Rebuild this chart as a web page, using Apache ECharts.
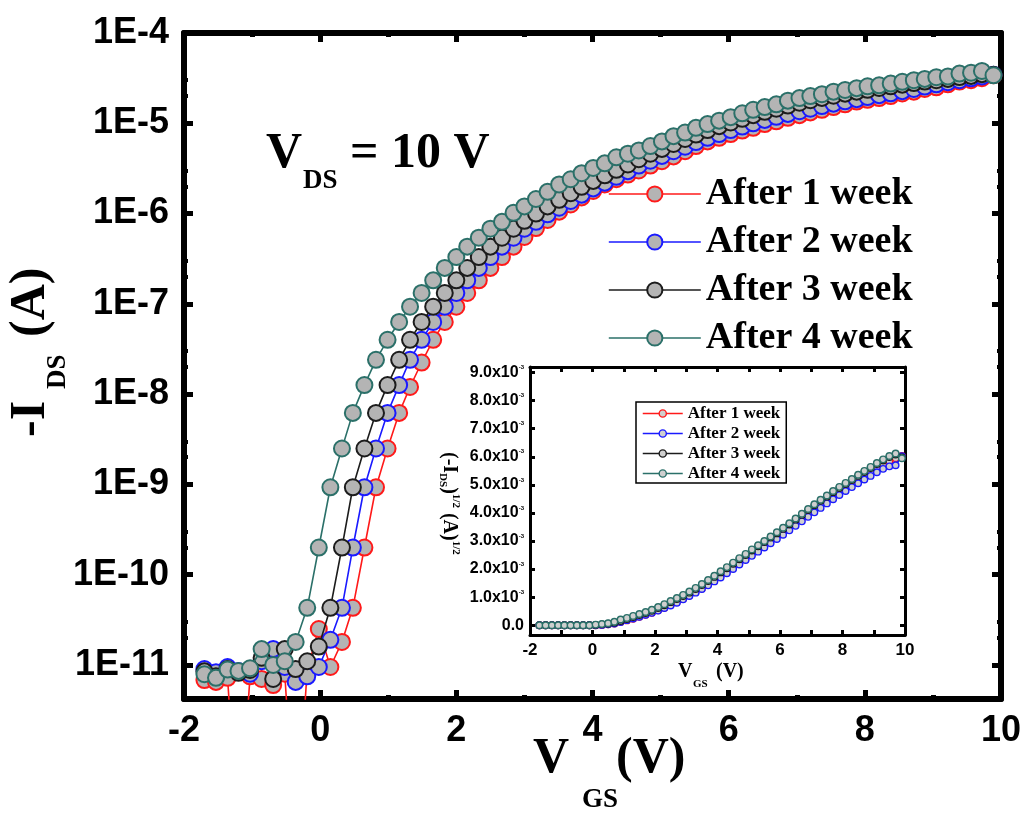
<!DOCTYPE html>
<html>
<head>
<meta charset="utf-8">
<script src="https://cdn.jsdelivr.net/npm/echarts@6/dist/echarts.min.js"></script>
<style>html,body{margin:0;padding:0;background:#fff}#c{width:1027px;height:820px}</style>
</head>
<body>
<div id="c"></div>
<script>
// ---------- DATA (main plot, -I_DS in A vs V_GS in V) ----------
const VGS = [-1.70,-1.53,-1.36,-1.20,-1.03,-0.86,-0.69,-0.52,-0.36,-0.19,
-0.02,0.15,0.32,0.48,0.65,0.82,0.99,1.16,1.32,1.49,
1.66,1.83,2.00,2.16,2.33,2.50,2.67,2.84,3.00,3.17,
3.34,3.51,3.68,3.84,4.01,4.18,4.35,4.52,4.68,4.85,
5.02,5.19,5.36,5.52,5.69,5.86,6.03,6.20,6.36,6.53,
6.70,6.87,7.04,7.20,7.37,7.54,7.71,7.88,8.04,8.21,
8.38,8.55,8.72,8.88,9.05,9.22,9.39,9.56,9.72,9.89];

const I_week1 = [6.8e-12,6.5e-12,7.2e-12,1e-13,7.5e-12,7.0e-12,6.0e-12,8.0e-12,1e-13,8.9e-12,
2.5e-11,9.5e-12,1.8e-11,4.3e-11,2.0e-10,9.3e-10,2.5e-9,6.2e-9,1.2e-8,2.24e-8,
4.0e-8,6.3e-8,9.3e-8,1.32e-7,1.82e-7,2.5e-7,3.3e-7,4.3e-7,5.5e-7,6.9e-7,
8.5e-7,1.05e-6,1.26e-6,1.51e-6,1.78e-6,2.1e-6,2.4e-6,2.7e-6,3.0e-6,3.4e-6,
3.8e-6,4.3e-6,4.9e-6,5.6e-6,6.3e-6,6.9e-6,7.6e-6,8.3e-6,8.9e-6,9.8e-6,
1.05e-5,1.15e-5,1.23e-5,1.32e-5,1.41e-5,1.51e-5,1.62e-5,1.74e-5,1.82e-5,1.9e-5,
2.0e-5,2.14e-5,2.24e-5,2.4e-5,2.5e-5,2.7e-5,2.9e-5,3.0e-5,3.16e-5,3.4e-5];

const I_week2 = [9.0e-12,8.3e-12,9.5e-12,8.6e-12,8.0e-12,1.1e-11,1.5e-11,9.5e-12,6.5e-12,7.5e-12,
9.5e-12,1.9e-11,4.3e-11,2.0e-10,9.3e-10,2.5e-9,6.2e-9,1.26e-8,2.4e-8,4.0e-8,
6.3e-8,9.3e-8,1.32e-7,1.82e-7,2.5e-7,3.3e-7,4.3e-7,5.4e-7,6.8e-7,8.1e-7,
9.8e-7,1.16e-6,1.38e-6,1.62e-6,1.9e-6,2.2e-6,2.55e-6,2.95e-6,3.4e-6,3.85e-6,
4.35e-6,4.9e-6,5.5e-6,6.2e-6,6.9e-6,7.6e-6,8.4e-6,9.2e-6,1.0e-5,1.09e-5,
1.18e-5,1.27e-5,1.36e-5,1.45e-5,1.55e-5,1.65e-5,1.75e-5,1.85e-5,1.95e-5,2.05e-5,
2.15e-5,2.27e-5,2.4e-5,2.55e-5,2.7e-5,2.85e-5,3.0e-5,3.15e-5,3.3e-5,3.45e-5];

const I_week3 = [8.5e-12,7.5e-12,9.0e-12,8.2e-12,8.8e-12,1.2e-11,7.0e-12,1.5e-11,9.0e-12,1.1e-11,
1.6e-11,4.3e-11,2.0e-10,9.3e-10,2.5e-9,6.2e-9,1.26e-8,2.4e-8,4.0e-8,6.3e-8,
9.3e-8,1.32e-7,1.82e-7,2.5e-7,3.3e-7,4.3e-7,5.4e-7,6.8e-7,8.3e-7,1.0e-6,
1.2e-6,1.42e-6,1.68e-6,1.98e-6,2.3e-6,2.65e-6,3.05e-6,3.5e-6,4.0e-6,4.6e-6,
5.2e-6,5.9e-6,6.7e-6,7.5e-6,8.4e-6,9.3e-6,1.02e-5,1.12e-5,1.23e-5,1.34e-5,
1.45e-5,1.57e-5,1.69e-5,1.8e-5,1.91e-5,2.02e-5,2.13e-5,2.24e-5,2.35e-5,2.46e-5,
2.57e-5,2.68e-5,2.79e-5,2.9e-5,3.0e-5,3.1e-5,3.25e-5,3.35e-5,3.5e-5,3.45e-5];

const I_week4 = [7.9e-12,7.2e-12,8.9e-12,8.6e-12,9.2e-12,1.5e-11,1.0e-11,1.1e-11,1.8e-11,4.3e-11,
2.0e-10,9.3e-10,2.5e-9,6.2e-9,1.26e-8,2.4e-8,4.0e-8,6.3e-8,9.3e-8,1.32e-7,
1.82e-7,2.5e-7,3.3e-7,4.3e-7,5.4e-7,6.8e-7,8.1e-7,1.02e-6,1.2e-6,1.45e-6,
1.74e-6,2.1e-6,2.4e-6,2.8e-6,3.2e-6,3.6e-6,4.2e-6,4.6e-6,5.0e-6,5.6e-6,
6.3e-6,7.2e-6,7.9e-6,8.9e-6,9.8e-6,1.07e-5,1.17e-5,1.29e-5,1.41e-5,1.51e-5,
1.62e-5,1.78e-5,1.9e-5,2.0e-5,2.1e-5,2.24e-5,2.34e-5,2.45e-5,2.57e-5,2.63e-5,
2.75e-5,2.88e-5,3.0e-5,3.1e-5,3.24e-5,3.3e-5,3.55e-5,3.63e-5,3.8e-5,3.4e-5];

// minor tick positions on the log axis
const logMinorTicks = [2e-12,3e-12,2e-11,3e-11,2e-10,3e-10,2e-9,3e-9,2e-8,3e-8,2e-7,3e-7,2e-6,3e-6,2e-5,3e-5];

// ---------- DATA (inset, (-I_DS)^1/2 in units of 1e-3 A^1/2) ----------
const VGS_inset = [-1.7,-1.5,-1.3,-1.1,-0.9,-0.7,-0.5,-0.3,-0.1,
0.1,0.3,0.5,0.7,0.9,1.1,1.3,1.5,1.7,1.9,
2.1,2.3,2.5,2.7,2.9,3.1,3.3,3.5,3.7,3.9,
4.1,4.3,4.5,4.7,4.9,5.1,5.3,5.5,5.7,5.9,
6.1,6.3,6.5,6.7,6.9,7.1,7.3,7.5,7.7,7.9,
8.1,8.3,8.5,8.7,8.9,9.1,9.3,9.5,9.7,9.9];

const sq_week1 = [0,0,0,0,0,0,0,0,0,
0.00,0.01,0.03,0.06,0.11,0.17,0.23,0.30,0.37,0.44,
0.53,0.62,0.72,0.83,0.94,1.06,1.18,1.31,1.45,1.59,
1.75,1.90,2.06,2.21,2.37,2.52,2.68,2.83,2.99,3.15,
3.31,3.47,3.63,3.80,3.97,4.13,4.29,4.44,4.59,4.74,
4.88,5.02,5.16,5.30,5.44,5.58,5.71,5.84,5.95,6.03];

const sq_week2 = [0,0,0,0,0,0,0,0,0,
0.00,0.01,0.03,0.06,0.11,0.18,0.24,0.30,0.37,0.44,
0.52,0.61,0.70,0.80,0.92,1.04,1.16,1.29,1.42,1.56,
1.70,1.85,2.00,2.16,2.32,2.47,2.62,2.77,2.92,3.07,
3.22,3.38,3.54,3.70,3.86,4.02,4.18,4.34,4.49,4.64,
4.78,4.92,5.06,5.19,5.32,5.45,5.57,5.66,5.70,6.02];

const sq_week3 = [0,0,0,0,0,0,0,0,0,
0.01,0.03,0.05,0.09,0.15,0.22,0.29,0.36,0.43,0.51,
0.61,0.71,0.82,0.93,1.04,1.16,1.29,1.43,1.57,1.72,
1.88,2.03,2.19,2.35,2.50,2.66,2.81,2.96,3.12,3.27,
3.43,3.59,3.76,3.93,4.10,4.27,4.43,4.58,4.74,4.89,
5.03,5.17,5.32,5.46,5.60,5.74,5.87,5.99,6.08,5.98];

const sq_week4 = [0,0,0,0,0,0,0,0,0,
0.02,0.04,0.07,0.12,0.20,0.26,0.33,0.40,0.47,0.55,
0.65,0.75,0.86,0.97,1.08,1.20,1.33,1.47,1.61,1.76,
1.92,2.07,2.23,2.39,2.54,2.70,2.85,3.00,3.16,3.31,
3.47,3.63,3.80,3.97,4.14,4.31,4.47,4.62,4.78,4.93,
5.07,5.21,5.36,5.50,5.64,5.78,5.91,6.03,6.12,5.95];

const seriesNames = ['After 1 week','After 2 week','After 3 week','After 4 week'];
const insetYTicks = [0,1,2,3,4,5,6,7,8,9];
const insetYExpSuffix = '-3';

// ---------- STYLE ----------
const colors = ['#ff1a1a','#1a1aff','#1c1c1c','#2b7069'];
const markerFill = '#b4b4b4';
const insetFill = '#cfcfcf';
const SERIF = "'Liberation Serif','Times New Roman',serif";
const SANS = "'Liberation Sans',Arial,sans-serif";

const mainI = [I_week1, I_week2, I_week3, I_week4];
const insetS = [sq_week1, sq_week2, sq_week3, sq_week4];

const chart = echarts.init(document.getElementById('c'), null, {renderer:'canvas'});

function pair(xs, ys){ return xs.map((x,i)=>[x, ys[i]]); }

const series = [];
seriesNames.forEach((n,i)=>{
  series.push({
    name:n, type:'line', xAxisIndex:0, yAxisIndex:0, z: 2+i,
    data: pair(VGS, mainI[i]),
    symbol:'circle', symbolSize:16, showSymbol:true, clip:true,
    lineStyle:{color:colors[i], width:1.6},
    itemStyle:{color:markerFill, borderColor:colors[i], borderWidth:2},
    emphasis:{disabled:true}, animation:false
  });
});
seriesNames.forEach((n,i)=>{
  series.push({
    name:n, type:'line', xAxisIndex:2, yAxisIndex:2, z: 2+i,
    data: pair(VGS_inset, insetS[i]),
    symbol:'circle', symbolSize:6.5, clip:true,
    lineStyle:{color:colors[i], width:1.5},
    itemStyle:{color:insetFill, borderColor:colors[i], borderWidth:1.4},
    emphasis:{disabled:true}, animation:false
  });
});

const mainAxisLine = {show:true, onZero:false, lineStyle:{color:'#000', width:6}};
const mainTick = {show:true, inside:true, length:9, lineStyle:{color:'#000', width:5}};
const mainMinor = {show:true, length:4, lineStyle:{color:'#000', width:5}};

const insetAxisLine = {show:true, onZero:false, lineStyle:{color:'#000', width:3}};
const insetTick = {show:true, inside:true, length:5, lineStyle:{color:'#000', width:3}};

function logLabel(v){
  const e = Math.log10(v); const r = Math.round(e);
  return Math.abs(e - r) < 1e-6 ? '1E' + r : '';
}

function logAxis(pos, labels, ticks){
  return {type:'log', logBase:10, gridIndex:0, position:pos, min:4.2e-12, max:1e-4, splitNumber:7,
    axisLine: ticks === 'minor' ? {show:false, onZero:false} : mainAxisLine,
    axisTick: ticks === 'minor'
      ? {show:true, inside:true, length:4, customValues:logMinorTicks, lineStyle:{color:'#000', width:4}}
      : mainTick,
    splitLine:{show:false},
    axisLabel: labels ? {show:true, margin:15, color:'#000', fontFamily:SANS, fontWeight:'bold', fontSize:36, formatter:logLabel}
                      : {show:false}};
}

const option = {
  backgroundColor:'#fff',
  animation:false,
  grid:[
    {left:184, right:26, top:33, bottom:121, containLabel:false},
    {left:530, right:122, top:367, bottom:185, containLabel:false}
  ],
  xAxis:[
    {type:'value', gridIndex:0, position:'bottom', min:-2, max:10, interval:2,
     axisLine:mainAxisLine, axisTick:mainTick, minorTick:Object.assign({splitNumber:2}, mainMinor),
     splitLine:{show:false}, minorSplitLine:{show:false},
     axisLabel:{show:true, margin:14, color:'#000', fontFamily:SANS, fontWeight:'bold', fontSize:36}},
    {type:'value', gridIndex:0, position:'top', min:-2, max:10, interval:2,
     axisLine:mainAxisLine, axisTick:mainTick, minorTick:Object.assign({splitNumber:2}, mainMinor),
     splitLine:{show:false}, axisLabel:{show:false}},
    {type:'value', gridIndex:1, position:'bottom', min:-2, max:10, interval:2,
     axisLine:insetAxisLine, axisTick:insetTick, minorTick:{show:true, splitNumber:2, length:5, lineStyle:{color:'#000', width:3}},
     splitLine:{show:false},
     axisLabel:{show:true, margin:7, color:'#000', fontFamily:SANS, fontWeight:'bold', fontSize:17}},
    {type:'value', gridIndex:1, position:'top', min:-2, max:10, interval:2,
     axisLine:insetAxisLine, axisTick:insetTick, minorTick:{show:true, splitNumber:2, length:5, lineStyle:{color:'#000', width:3}},
     splitLine:{show:false}, axisLabel:{show:false}}
  ],
  yAxis:[
    logAxis('left', true, 'major'),
    logAxis('right', false, 'major'),
    {type:'value', gridIndex:1, position:'left', min:-0.35, max:9.2,
     axisLine:insetAxisLine, axisTick:Object.assign({customValues:insetYTicks}, insetTick),
     splitLine:{show:false},
     axisLabel:{show:true, margin:6, customValues:insetYTicks, color:'#000',
       formatter:(v)=> v===0 ? '{n|0.0}' : '{n|' + v.toFixed(1) + 'x10}{s|' + insetYExpSuffix + '}',
       rich:{n:{fontFamily:SANS, fontWeight:'bold', fontSize:16, color:'#000'},
             s:{fontFamily:SANS, fontWeight:'bold', fontSize:6, color:'#000', verticalAlign:'top', lineHeight:8}}}},
    {type:'value', gridIndex:1, position:'right', min:-0.35, max:9.2,
     axisLine:insetAxisLine, axisTick:Object.assign({customValues:insetYTicks}, insetTick),
     splitLine:{show:false}, axisLabel:{show:false}},
    logAxis('left', false, 'minor'),
    logAxis('right', false, 'minor')
  ],
  legend:[
    {orient:'vertical', left:608, top:175, padding:0, itemWidth:92, itemHeight:19, itemGap:10,
     selectedMode:false, textStyle:{fontFamily:SERIF, fontWeight:'bold', fontSize:38, color:'#000'},
     data: seriesNames.map((n,i)=>({name:n, itemStyle:{color:markerFill, borderColor:colors[i], borderWidth:2},
       lineStyle:{color:colors[i], width:1.6}}))},
    {orient:'vertical', left:636, top:402, padding:[3,6,1,6], itemWidth:40, itemHeight:9, itemGap:3,
     borderColor:'#000', borderWidth:1.5, backgroundColor:'#fff',
     selectedMode:false, textStyle:{fontFamily:SERIF, fontWeight:'bold', fontSize:17, lineHeight:17, color:'#000'},
     data: seriesNames.map((n,i)=>({name:n, itemStyle:{color:insetFill, borderColor:colors[i], borderWidth:1.4},
       lineStyle:{color:colors[i], width:1.5}}))}
  ],
  graphic:[
    // V_DS = 10 V annotation
    {type:'text', x:266, y:154, style:{text:'V', font:'bold 50px '+SERIF, fill:'#000', verticalAlign:'middle', align:'left'}},
    {type:'text', x:303, y:181, style:{text:'DS', font:'bold 27px '+SERIF, fill:'#000', verticalAlign:'middle', align:'left'}},
    {type:'text', x:350, y:154, style:{text:'= 10 V', font:'bold 50px '+SERIF, fill:'#000', verticalAlign:'middle', align:'left'}},
    // main x title
    {type:'text', x:533, y:759, style:{text:'V', font:'bold 50px '+SERIF, fill:'#000', verticalAlign:'middle', align:'left'}},
    {type:'text', x:582, y:800, style:{text:'GS', font:'bold 27px '+SERIF, fill:'#000', verticalAlign:'middle', align:'left'}},
    {type:'text', x:616, y:759, style:{text:'(V)', font:'bold 50px '+SERIF, fill:'#000', verticalAlign:'middle', align:'left'}},
    // main y title (rotated)
    {type:'group', x:31, y:437, rotation:Math.PI/2, children:[
      {type:'text', x:0, y:0, style:{text:'-I', font:'bold 50px '+SERIF, fill:'#000', verticalAlign:'middle', align:'left'}},
      {type:'text', x:48, y:27, style:{text:'DS', font:'bold 27px '+SERIF, fill:'#000', verticalAlign:'middle', align:'left'}},
      {type:'text', x:100, y:0, style:{text:'(A)', font:'bold 50px '+SERIF, fill:'#000', verticalAlign:'middle', align:'left'}}
    ]},
    // inset x title
    {type:'text', x:678, y:672, style:{text:'V', font:'bold 20px '+SERIF, fill:'#000', verticalAlign:'middle', align:'left'}},
    {type:'text', x:693, y:684, style:{text:'GS', font:'bold 11px '+SERIF, fill:'#000', verticalAlign:'middle', align:'left'}},
    {type:'text', x:716, y:672, style:{text:'(V)', font:'bold 20px '+SERIF, fill:'#000', verticalAlign:'middle', align:'left'}},
    // inset y title (rotated, reads top to bottom)
    {type:'group', x:449, y:452, rotation:-Math.PI/2, children:[
      {type:'text', x:0, y:0, style:{
        text:'{m|(-I}{sub|DS}{m|)}{sup|1/2}{m| (A)}{sup|1/2}', verticalAlign:'middle', align:'left',
        rich:{m:{fontFamily:SERIF, fontWeight:'bold', fontSize:20, lineHeight:24, color:'#000'},
              sub:{fontFamily:SERIF, fontWeight:'bold', fontSize:11, lineHeight:11, verticalAlign:'bottom', color:'#000'},
              sup:{fontFamily:SERIF, fontWeight:'bold', fontSize:11, lineHeight:11, verticalAlign:'top', color:'#000'}}
      }}
    ]}
  ],
  series: series
};
chart.setOption(option);
</script>
</body>
</html>
